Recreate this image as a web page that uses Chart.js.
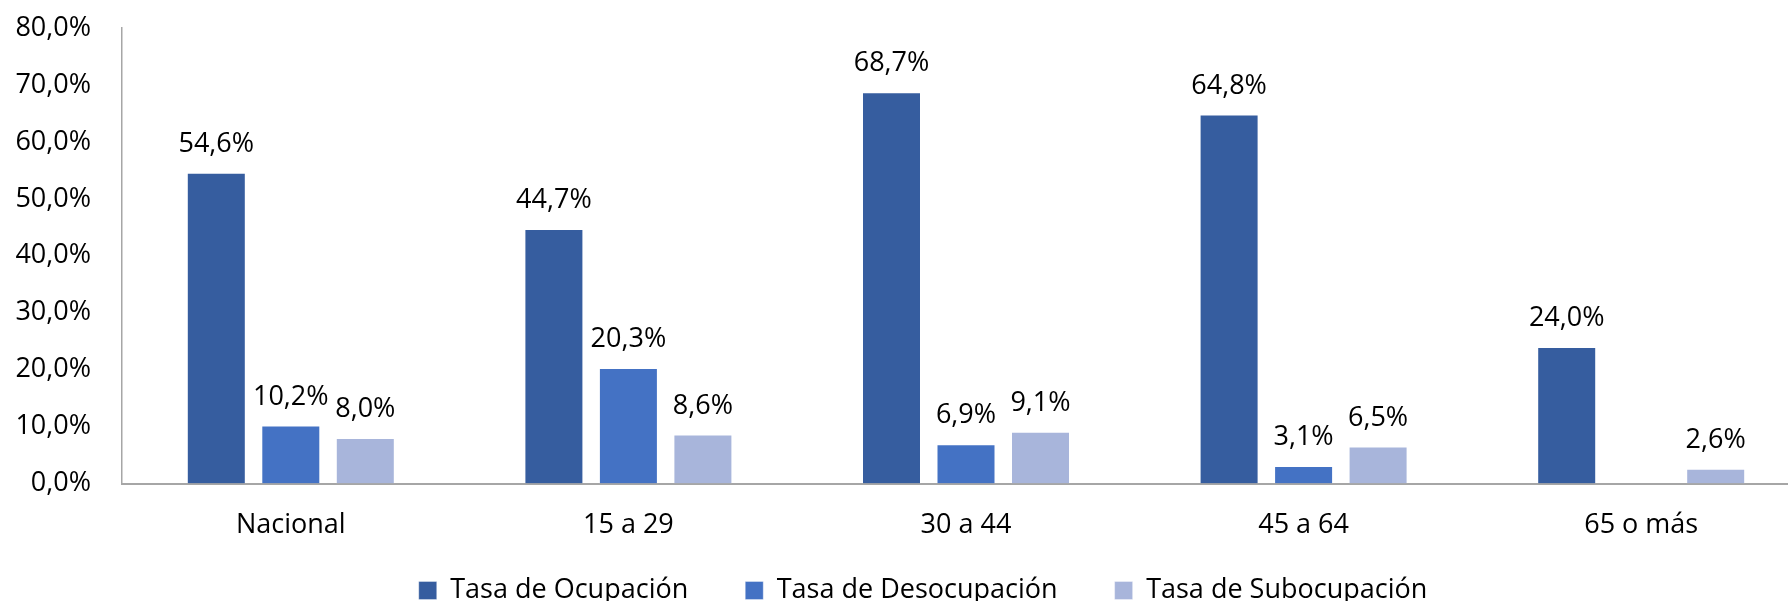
<!DOCTYPE html>
<html lang="es">
<head>
<meta charset="utf-8">
<title>Tasas por grupo de edad</title>
<script src="https://cdn.jsdelivr.net/npm/chart.js@4/dist/chart.umd.min.js"></script>
<style>
    html, body { margin: 0; padding: 0; overflow: hidden; background: #fff; }
    #graf1 { display: block; }
</style>
</head>
<body>
<canvas id="graf1" width="1810" height="636"></canvas>
<script>
// datos del gráfico (porcentajes)
var grupos = ["Nacional", "15 a 29", "30 a 44", "45 a 64", "65 o más"];
var tasaOcupacion = [54.6, 44.7, 68.7, 64.8, 24.0];
var tasaDesocupacion = [10.2, 20.3, 6.9, 3.1, null];
var tasaSubocupacion = [8.0, 8.6, 9.1, 6.5, 2.6];
var ticksY = [0, 10, 20, 30, 40, 50, 60, 70, 80];

function formatoPct(v) {
    return v.toFixed(1).replace('.', ',') + '%';
}

// etiquetas encima de cada barra
var etiquetasBarras = {
    id: 'etiquetasBarras',
    afterDatasetsDraw: function (chart) {
        var ctx = chart.ctx;
        ctx.save();
        ctx.font = '27px "Open Sans"';
        ctx.fillStyle = '#000';
        ctx.textAlign = 'center';
        ctx.textBaseline = 'alphabetic';
        chart.data.datasets.forEach(function (ds, i) {
            var meta = chart.getDatasetMeta(i);
            meta.data.forEach(function (bar, j) {
                var v = ds.data[j];
                if (v === null || v === undefined) return;
                ctx.fillText(formatoPct(v), bar.x, bar.y - 21);
            });
        });
        ctx.restore();
    }
};

// mueve la leyenda: un poco a la derecha y más cerca del eje
var posicionLeyenda = {
    id: 'posicionLeyenda',
    afterLayout: function (chart) {
        var lg = chart.legend;
        lg.left += 36;
        lg.top -= 22;
        lg.bottom -= 22;
    }
};

function createBarChart() {
    Chart.defaults.font.family = '"Open Sans", sans-serif';
    Chart.defaults.font.size = 27;
    Chart.defaults.color = '#000';

    var ctx = document.getElementById('graf1').getContext('2d');
    new Chart(ctx, {
        type: 'bar',
        data: {
            labels: grupos,
            datasets: [{
                label: 'Tasa de Ocupación',
                data: tasaOcupacion,
                backgroundColor: '#365D9F',
                borderColor: 'rgba(255,255,255,0.35)',
                borderWidth: 1
            }, {
                label: 'Tasa de Desocupación',
                data: tasaDesocupacion,
                backgroundColor: '#4472C4',
                borderColor: 'rgba(255,255,255,0.35)',
                borderWidth: 1
            }, {
                label: 'Tasa de Subocupación',
                data: tasaSubocupacion,
                backgroundColor: '#A8B5DB',
                borderColor: 'rgba(255,255,255,0.35)',
                borderWidth: 1
            }]
        },
        options: {
            responsive: false,
            animation: false,
            datasets: {
                bar: {
                    categoryPercentage: 0.662,
                    barPercentage: 0.792
                }
            },
            layout: {
                padding: { top: 28, left: 0, right: 0, bottom: 0 }
            },
            scales: {
                x: {
                    // las marcas no se dibujan, solo dejan el espacio hasta las etiquetas
                    grid: { display: false, drawTicks: true, tickLength: 26 },
                    border: { display: true, color: '#A6A6A6', width: 2 },
                    ticks: { padding: 0, color: '#000' }
                },
                y: {
                    min: 0,
                    max: 80,
                    afterBuildTicks: function (scale) {
                        scale.ticks = ticksY.map(function (v) { return { value: v }; });
                    },
                    grid: { display: false, drawTicks: true, tickLength: 31 },
                    border: { display: true, color: '#A6A6A6', width: 1.5 },
                    ticks: {
                        padding: 0,
                        color: '#000',
                        callback: function (v) { return formatoPct(v); }
                    },
                    afterFit: function (scale) { scale.width = 122; }
                }
            },
            plugins: {
                legend: {
                    position: 'bottom',
                    labels: {
                        boxWidth: 18,
                        boxHeight: 18,
                        padding: 57,
                        color: '#000',
                        font: { size: 27 }
                    }
                },
                tooltip: { enabled: false }
            }
        },
        plugins: [etiquetasBarras, posicionLeyenda]
    });
}

document.addEventListener('DOMContentLoaded', function () {
    createBarChart();
});
</script>
</body>
</html>
